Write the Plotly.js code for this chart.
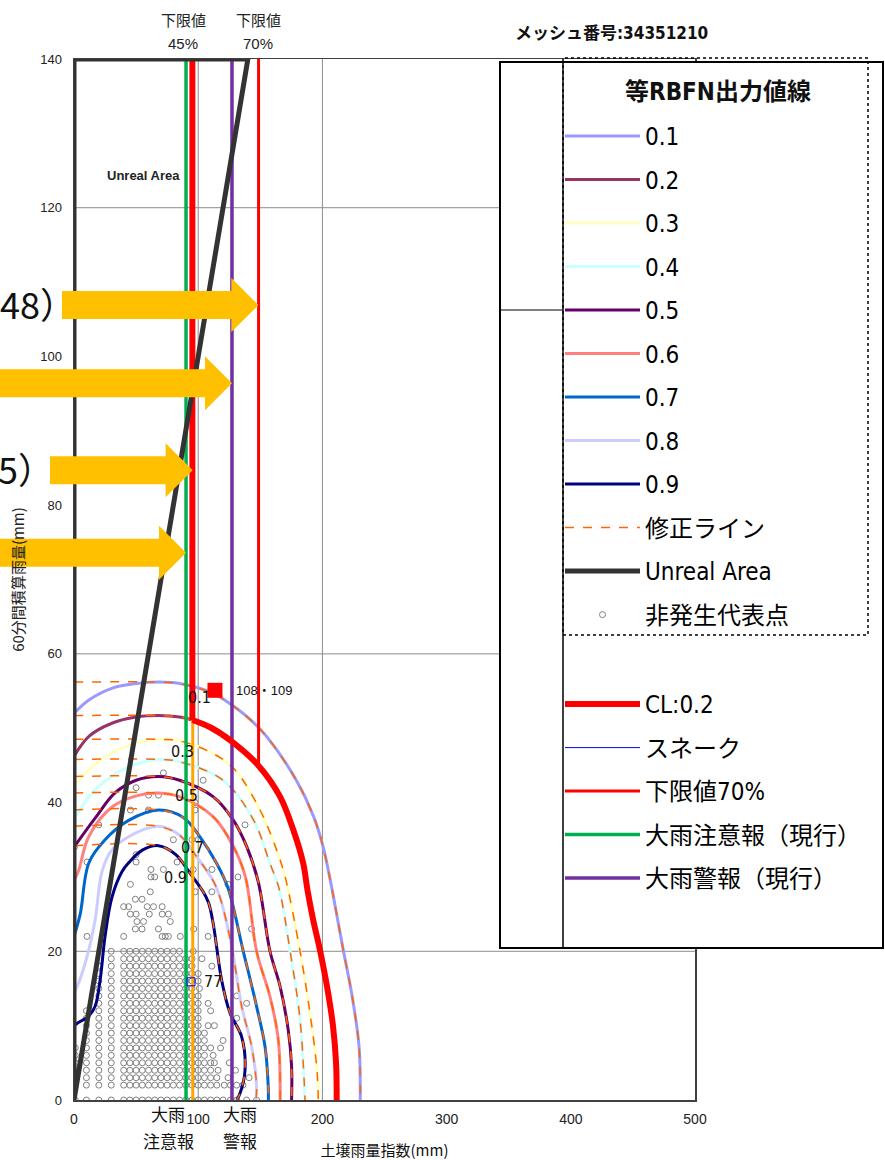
<!DOCTYPE html>
<html><head><meta charset="utf-8">
<script src="https://cdn.plot.ly/plotly-3.0.1.min.js"></script>
<style>html,body{margin:0;padding:0;background:#fff;}#chart{width:885px;height:1160px;}</style>
</head><body><div id="chart"></div>
<script>
// ================= DATA =================
const contourLevels = ['0.1','0.2','0.3','0.4','0.5','0.6','0.7','0.8','0.9'];
const contourColors = ['#9999ff','#993366','#ffffc0','#ccffff','#660066','#ff8080','#0066cc','#ccccff','#000080'];
const contourX = [
  [0,12,31,50,68,85,112,123,139,155,179,193,200.5,207,212,217,224,229.5,230.5],
  [0,12,31,50,68,85,95.3,110,125.6,148.4,165.9,176.6,184.6,188,192.6,198,204,208.5,211,211.5],
  [0,12,30.6,50,68,85,112,129.6,149.8,163.2,170,182,190,195.4,196.7],
  [0,17,44,70,85,120,144.4,157.8,165,174,182,186],
  [0,17,33,50,68,85,112,128,139,148.4,157.8,165.9,172.5,175.2,175.2],
  [0,3.8,11.8,30.6,50,66,85,112,128.3,138,147,157.8,164.5,166],
  [0,5,12,25,44,68,88,101.4,114.9,124,136.3,147,153.8,156.4,156.5],
  [0,2.4,10.5,17,22.5,30,44,68,85,98.8,112,118,127,135,143,147,146.5],
  [0,2.4,12,17,21,25,30.6,38.6,44,55,68,82,93.4,104,108.4,112,119,125.6,135,137.7,133.7,131]
];
const contourY = [
  [52,53.8,55.4,56.0,56.2,56.0,54.7,53.6,51.6,48.9,43.0,38.1,34.1,29.0,24.5,20,13.9,7.2,0],
  [46.2,48.9,50.7,51.5,51.7,51.5,51.1,50.1,48.4,45.0,40.8,36.3,31.8,28.2,24.2,20.2,15,10,5,0],
  [42.1,44.4,46.7,48.0,48.5,48.3,46.6,44.4,39,33.6,30,20,11.7,4.5,0],
  [37.8,41.7,44.8,45.8,45.5,43,37.7,31.8,28.5,20,10.8,0],
  [34,37.9,41.3,43.0,43.5,43,40.8,37.7,34.1,29.3,20,15.3,9.4,4.5,0],
  [29.5,30.9,35.4,39.4,40.9,41.3,40.8,38.1,34.1,30,20,13.9,8.1,0],
  [22,25,31.9,35,37.6,39,38,35.4,31.8,28.5,20,12.6,7.2,1.8,0],
  [14.5,15.2,19.3,24.2,30.7,33.5,35.4,36.8,35.6,32.7,29.5,27,20.6,12.6,7.2,1.8,0],
  [10,10.3,11.3,12.6,16.1,22,27.3,30.7,31.9,33.6,34.2,33,30.5,28,26.5,23.8,16,11.7,8.5,4,0.9,0]
];
// CL:0.2 line (vertical part + curve)
const clVertX = [95.3,95.3];
const clVertY = [140,51.1];
const clCurveX = [95.3,110,125.6,148.4,165.9,176.6,184.6,188,192.6,198,204,208.5,211,211.5];
const clCurveY = [51.1,50.1,48.4,45.0,40.8,36.3,31.8,28.2,24.2,20.2,15,10,5,0];
// vertical reference lines
const advisoryX = [90.2,90.2], advisoryY = [0,140];
const warningX = [127.2,127.2], warningY = [0,140];
const limit70X = [148.6,148.6], limit70Y = [140,45];
const limit45LowX = [95.6,95.6], limit45LowY = [0,51.1];
// unreal area boundary
const unrealX = [0,140,0,0];
const unrealY = [0,140,140,0];
// snake point and highlighted point
const snakeX = [94.2], snakeY = [15.9];
const hiX = [113.5], hiY = [55.1];
// non-occurrence representative points: [y, [x...]]
const pointRows = [
  [0,[1,10,20,30,40,45,50,55,60,65,70,75,80,85,90,95,100,105,110,115,120,126,131,139,147]],
  [2,[1,10,20,30,40,45,50,55,60,65,70,75,80,85,90,95,100,105,110,115,121,126,131,136]],
  [3,[1,10,20,30,40,45,50,55,60,65,70,75,80,85,90,95,100,105,110,115,124,141]],
  [4,[1,10,20,30,40,45,50,55,60,65,70,75,80,85,90,95,100,105,110,116,130]],
  [5,[1,10,20,30,40,45,50,55,60,65,70,75,80,85,90,95,100,105,110,113,125]],
  [6,[1,10,20,30,40,45,50,55,60,65,70,75,80,85,90,95,100,105,112]],
  [7,[1,10,20,30,40,45,50,55,60,65,70,75,80,85,90,95,100,105,110,118]],
  [8,[10,20,30,40,45,50,55,60,65,70,75,80,85,90,95,100,105,120]],
  [9,[10,20,30,40,45,50,55,60,65,70,75,80,85,90,95,100,105]],
  [10,[10,20,30,40,45,50,55,60,65,70,75,80,85,90,95,100,108,113]],
  [11,[10,20,30,40,45,50,55,60,65,70,75,80,85,90,95,100,131]],
  [12,[10,20,30,40,45,50,55,60,65,70,75,80,85,90,95,100,110]],
  [13,[20,30,40,45,50,55,60,65,70,75,80,85,90,95,100,108,139]],
  [14,[20,30,40,45,50,55,60,65,70,75,80,85,90,95,100,131]],
  [15,[20,30,40,45,50,55,60,65,70,75,80,85,90,95,101]],
  [16,[20,30,40,45,50,55,60,65,70,75,80,85,90,95,100]],
  [17,[20,30,40,45,50,55,60,65,70,75,80,85,90,95,100]],
  [18,[20,30,40,45,50,55,60,65,70,75,80,85,90,95,111]],
  [19,[30,40,45,50,55,60,65,70,75,80,85,90,95,103]],
  [20,[30,40,45,50,55,60,65,70,75,80,85,96]]
];
const sparseX = [10.5,40,71,73.5,76,85.6,108, 49.4,54.8,68,96.4,143, 50.7,56,77.5, 45.4,50,60.6,71,76, 40,44,59,64,71, 49.4,54.8, 61.4,97.6,111, 45.4,124, 62,65,132, 62,72,96,111, 10.5,50,83, 50, 0.3, 80,95,100, 19.9,137.7, 45.4,60,97.5, 60,68,97.5, 50, 104, 72];
const sparseY = [22,22,22,22,22,22,22, 23,23,23,23,23, 24,24,24, 25,25,25,25,25, 26,26,26,26,26, 27,27, 28,28,28, 29,29, 30,30,30, 31,31,31,31, 32,32,32, 33, 34, 35,35,35, 37,37, 39,39,39, 41,41,40, 42, 43, 44];
// labels
const contourLabelText = ['0.1','0.3','0.5','0.7','0.9'];
const contourLabelX = [101.4,87,90.2,95.8,82.1];
const contourLabelY = [54.1,46.9,40.9,33.9,29.9];
const xTickVals = [0,100,200,300,400,500];
const yTickVals = [0,20,40,60,80,100,120,140];
const gridXVals = [100,200];
const gridYVals = [20,60,120];
// arrows: y level, tip x, tail x (data units)
const arrowY = [106.9,96.4,84.7,73.6];
const arrowTip = [148.4,127.2,95.5,90.2];
const arrowTail = [-9.7,-70,-19.3,-70];

// ================= LAYOUT HELPERS =================
const L=74, R=695, T=59, B=1100;
const pxX = p => (p-L)/(R-L);
const pxY = p => (B-p)/(B-T);
const NARROW = '"Liberation Sans Narrow", "Arial Narrow", "DejaVu Sans Condensed", "Noto Sans CJK JP", sans-serif';
const SANS = '"Liberation Sans", Arial, "Noto Sans CJK JP", sans-serif';
const JP = '"Noto Sans CJK JP", sans-serif';

const traces = [];
const ptX=[], ptY=[];
pointRows.forEach(r => r[1].forEach(x => { ptX.push(x); ptY.push(r[0]); }));
sparseX.forEach((x,i) => { ptX.push(x); ptY.push(sparseY[i]); });
traces.push({type:'scatter', mode:'markers', x:ptX, y:ptY, name:'非発生代表点', legend:'legend', legendgroup:'g12', legendrank:12,
  marker:{symbol:'circle-open', size:6, color:'#808080', line:{width:1, color:'#808080'}}, hoverinfo:'skip'});
contourLevels.forEach((lv,i) => traces.push({type:'scatter', mode:'lines', x:contourX[i], y:contourY[i], name:lv,
  legend:'legend', legendgroup:'g'+(i+1), legendrank:i+1, line:{color:contourColors[i], width:3, shape:'spline', smoothing:1}, hoverinfo:'skip'}));
contourLevels.forEach((lv,i) => {
  const ys = contourY[i]; let k = 0; ys.forEach((v,j)=>{ if (v>ys[k]) k=j; });
  traces.push({type:'scatter', mode:'lines', x:[0].concat(contourX[i].slice(k)), y:[ys[k]].concat(ys.slice(k)), name:'修正ライン',
    legend:'legend', legendgroup:'g10', legendrank:10, showlegend:i===0,
    line:{color:'#ff6600', width:1.5, dash:'dash', shape:'spline', smoothing:1}, hoverinfo:'skip'});
});
traces.push({type:'scatter', mode:'lines', x:limit45LowX, y:limit45LowY, showlegend:false, line:{color:'#ffa500', width:3}, hoverinfo:'skip'});
traces.push({type:'scatter', mode:'lines', x:advisoryX, y:advisoryY, name:'大雨注意報（現行）', legend:'legend2', legendgroup:'h4', legendrank:4, line:{color:'#00b050', width:3.5}, hoverinfo:'skip'});
traces.push({type:'scatter', mode:'lines', x:warningX, y:warningY, name:'大雨警報（現行）', legend:'legend2', legendgroup:'h5', legendrank:5, line:{color:'#7030a0', width:3.5}, hoverinfo:'skip'});
traces.push({type:'scatter', mode:'lines', x:limit70X, y:limit70Y, name:'下限値70%', legend:'legend2', legendgroup:'h3', legendrank:3, line:{color:'#ff0000', width:3}, hoverinfo:'skip'});
traces.push({type:'scatter', mode:'lines', x:clCurveX, y:clCurveY, showlegend:false, line:{color:'#ff0000', width:6, shape:'spline', smoothing:1}, hoverinfo:'skip'});
traces.push({type:'scatter', mode:'lines', x:clVertX, y:clVertY, name:'CL:0.2', legend:'legend2', legendgroup:'h1', legendrank:1, line:{color:'#ff0000', width:6}, hoverinfo:'skip'});
traces.push({type:'scatter', mode:'lines', x:unrealX, y:unrealY, name:'Unreal Area', legend:'legend', legendgroup:'g11', legendrank:11, cliponaxis:false, line:{color:'#333333', width:5}, hoverinfo:'skip'});
traces.push({type:'scatter', mode:'lines', x:snakeX, y:snakeY, name:'スネーク', legend:'legend2', legendgroup:'h2', legendrank:2, line:{color:'#0000ff', width:1}, hoverinfo:'skip'});
traces.push({type:'scatter', mode:'markers', x:snakeX, y:snakeY, showlegend:false, marker:{symbol:'square-open', size:8, color:'#0000ff', line:{width:1}}, hoverinfo:'skip'});
traces.push({type:'scatter', mode:'markers', x:hiX, y:hiY, showlegend:false, marker:{symbol:'square', size:15, color:'#ff0000'}, hoverinfo:'skip'});

const shapes = [];
gridXVals.forEach(v => shapes.push({type:'line', xref:'x', yref:'y', x0:v, x1:v, y0:0, y1:140, layer:'below', line:{color:'#8c8c8c', width:1}}));
gridYVals.forEach(v => shapes.push({type:'line', xref:'x', yref:'y', x0:0, x1:500, y0:v, y1:v, layer:'below', line:{color:'#8c8c8c', width:1}}));
shapes.push({type:'rect', xref:'paper', yref:'paper', x0:pxX(500), x1:pxX(883), y0:pxY(948), y1:pxY(62), layer:'above', fillcolor:'#ffffff', line:{color:'#000', width:2}});
shapes.push({type:'line', xref:'paper', yref:'paper', x0:pxX(563), x1:pxX(563), y0:pxY(948), y1:pxY(62), layer:'above', line:{color:'#000', width:1.5}});
shapes.push({type:'line', xref:'paper', yref:'paper', x0:pxX(500), x1:pxX(563), y0:pxY(310), y1:pxY(310), layer:'above', line:{color:'#000', width:1}});
shapes.push({type:'rect', xref:'paper', yref:'paper', x0:pxX(563), x1:pxX(868), y0:pxY(635), y1:pxY(58), layer:'above', line:{color:'#000', width:1.5, dash:'dot'}});
const sh = 14/(B-T), hh = 27/(B-T), hl = 27/(R-L);
arrowY.forEach((yv,i) => {
  const y = yv/140, tip = arrowTip[i]/500, tail = arrowTail[i]/500, b = tip-hl;
  shapes.push({type:'path', xref:'paper', yref:'paper', layer:'above', fillcolor:'#ffc000', line:{width:0},
    path:`M${tail},${y+sh} L${b},${y+sh} L${b},${y+hh} L${tip},${y} L${b},${y-hh} L${b},${y-sh} L${tail},${y-sh} Z`});
});

const ann = [];
function A(o){ ann.push(Object.assign({showarrow:false, xanchor:'center', yanchor:'middle'}, o)); }
A({xref:'x', yref:'y', x:55.6, y:124.3, text:'<b>Unreal Area</b>', font:{family:SANS, size:13, color:'#222'}});
contourLabelText.forEach((t,i) => A({xref:'x', yref:'y', x:contourLabelX[i], y:contourLabelY[i], text:t, font:{family:NARROW, size:16, color:'#111'}}));
A({xref:'x', yref:'y', x:snakeX[0]+9, y:snakeY[0], xanchor:'left', text:'77', font:{family:NARROW, size:16, color:'#111'}});
A({xref:'x', yref:'y', x:hiX[0]+15, y:hiY[0], xanchor:'left', text:'108・109', font:{family:SANS, size:13, color:'#111'}});
A({xref:'paper', yref:'paper', x:pxX(183), y:pxY(19), text:'下限値', font:{family:JP, size:15, color:'#222'}});
A({xref:'paper', yref:'paper', x:pxX(183), y:pxY(43), text:'45%', font:{family:SANS, size:15, color:'#222'}});
A({xref:'paper', yref:'paper', x:pxX(258), y:pxY(19), text:'下限値', font:{family:JP, size:15, color:'#222'}});
A({xref:'paper', yref:'paper', x:pxX(258), y:pxY(43), text:'70%', font:{family:SANS, size:15, color:'#222'}});
A({xref:'paper', yref:'paper', x:pxX(611), y:pxY(33), text:'<b>メッシュ番号:34351210</b>', font:{family:NARROW, size:17, color:'#111'}});
A({xref:'paper', yref:'paper', x:pxX(718), y:pxY(92), text:'<b>等RBFN出力値線</b>', font:{family:NARROW, size:24, color:'#111'}});
A({xref:'paper', yref:'paper', x:pxX(168), y:pxY(1113), text:'大雨', font:{family:JP, size:17, color:'#111'}});
A({xref:'paper', yref:'paper', x:pxX(168), y:pxY(1140), text:'注意報', font:{family:JP, size:17, color:'#111'}});
A({xref:'paper', yref:'paper', x:pxX(240), y:pxY(1113), text:'大雨', font:{family:JP, size:17, color:'#111'}});
A({xref:'paper', yref:'paper', x:pxX(240), y:pxY(1140), text:'警報', font:{family:JP, size:17, color:'#111'}});
A({xref:'paper', yref:'paper', x:pxX(78), y:pxY(303), xanchor:'right', text:'48）', font:{family:JP, size:36, color:'#111'}});
A({xref:'paper', yref:'paper', x:pxX(56), y:pxY(468), xanchor:'right', text:'5）', font:{family:JP, size:36, color:'#111'}});

const legendCommon = {xanchor:'left', yanchor:'top', bgcolor:'rgba(0,0,0,0)', borderwidth:0,
  font:{family:NARROW, size:24, color:'#000'}, itemwidth:75, traceorder:'grouped', tracegroupgap:9.3, itemclick:false, itemdoubleclick:false};

const layout = {
  width:885, height:1160, margin:{l:L, r:885-R, t:T, b:1160-B, pad:0},
  paper_bgcolor:'#fff', plot_bgcolor:'#fff', showlegend:true,
  font:{family:SANS, color:'#222'},
  xaxis:{range:[0,500], tickvals:xTickVals, showgrid:false, zeroline:false, showline:true, mirror:true, linecolor:'#404040', linewidth:1.5,
    ticks:'', ticklabelstandoff:6, tickfont:{family:SANS, size:14, color:'#222'},
    title:{text:'土壌雨量指数(mm)', font:{family:JP, size:15, color:'#111'}, standoff:20}},
  yaxis:{range:[0,140], tickvals:yTickVals, showgrid:false, zeroline:false, showline:true, mirror:true, linecolor:'#404040', linewidth:1.5,
    ticks:'', ticklabelstandoff:8, tickfont:{family:SANS, size:13, color:'#222'},
    title:{text:'60分間積算雨量(mm)', font:{family:JP, size:15, color:'#222'}, standoff:12}},
  legend:Object.assign({x:pxX(560), y:pxY(114)}, legendCommon),
  legend2:Object.assign({x:pxX(560), y:pxY(682)}, legendCommon),
  shapes:shapes, annotations:ann
};
Plotly.newPlot('chart', traces, layout, {displayModeBar:false, staticPlot:true});
</script></body></html>
